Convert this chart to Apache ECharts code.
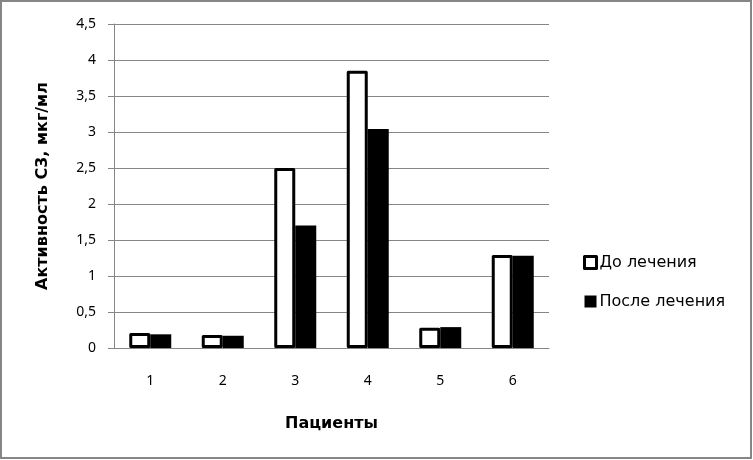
<!DOCTYPE html>
<html>
<head>
<meta charset="utf-8">
<script src="https://cdn.jsdelivr.net/npm/echarts@6/dist/echarts.min.js"></script>
<style>
html,body{margin:0;padding:0;background:#fff;}
#chart{width:753px;height:460px;}
</style>
</head>
<body>
<div id="chart"></div>
<script>
var categories = ['1', '2', '3', '4', '5', '6'];
var beforeValues = [0.21, 0.18, 2.5, 3.85, 0.28, 1.29];
var afterValues = [0.19, 0.17, 1.7, 3.04, 0.29, 1.28];
var seriesNames = ['До лечения', 'После лечения'];
var yTitle = 'Активность С3, мкг/мл';
var xTitle = 'Пациенты';

var FONT = 'Noto Sans';
var WFONT = 'DejaVu Sans';
var chart = echarts.init(document.getElementById('chart'), null, {renderer: 'canvas'});
chart.setOption({
  animation: false,
  backgroundColor: '#fff',
  graphic: [{
    type: 'rect', shape: {x: 1, y: 1, width: 750, height: 457},
    style: {fill: 'none', stroke: '#868686', lineWidth: 2}, silent: true
  }],
  grid: {left: 114, right: 204, top: 24, bottom: 112, containLabel: false},
  legend: {
    orient: 'vertical', left: 578, top: 249,
    itemWidth: 12, itemHeight: 12, itemGap: 22,
    textStyle: {fontFamily: WFONT, fontSize: 16, color: '#000', lineHeight: 17, padding: [0, 0, 0, -2]},
    data: [
      {name: seriesNames[0], icon: 'rect', itemStyle: {color: '#fff', borderColor: '#000', borderWidth: 3}},
      {name: seriesNames[1], icon: 'rect', itemStyle: {color: '#000', borderWidth: 0}}
    ]
  },
  xAxis: {
    type: 'category', data: categories,
    name: xTitle, nameLocation: 'middle', nameGap: 68,
    nameTextStyle: {fontFamily: WFONT, fontSize: 16, fontWeight: 'bold', color: '#000'},
    axisLine: {lineStyle: {color: '#868686', width: 1}},
    axisTick: {show: false},
    axisLabel: {fontFamily: FONT, fontSize: 14, color: '#000', margin: 26}
  },
  yAxis: {
    type: 'value', min: 0, max: 4.5, interval: 0.5,
    name: yTitle, nameLocation: 'middle', nameGap: 63, nameRotate: 90,
    nameTextStyle: {fontFamily: WFONT, fontSize: 16, fontWeight: 'bold', color: '#000'},
    axisLine: {show: true, lineStyle: {color: '#868686', width: 1}},
    axisTick: {show: true, inside: false, length: 6, lineStyle: {color: '#868686'}},
    splitLine: {show: true, lineStyle: {color: '#868686', width: 1}},
    axisLabel: {
      fontFamily: FONT, fontSize: 14, color: '#000', margin: 18,
      formatter: function (v) { return String(v).replace('.', ','); }
    }
  },
  series: [
    {
      name: seriesNames[0], type: 'bar', data: beforeValues,
      barWidth: 21, barGap: '0%',
      itemStyle: {color: '#fff', borderColor: '#000', borderWidth: 3, borderJoin: 'round'}
    },
    {
      name: seriesNames[1], type: 'bar', data: afterValues,
      barWidth: 21, barGap: '0%',
      itemStyle: {color: '#000'}
    }
  ]
});
</script>
</body>
</html>
